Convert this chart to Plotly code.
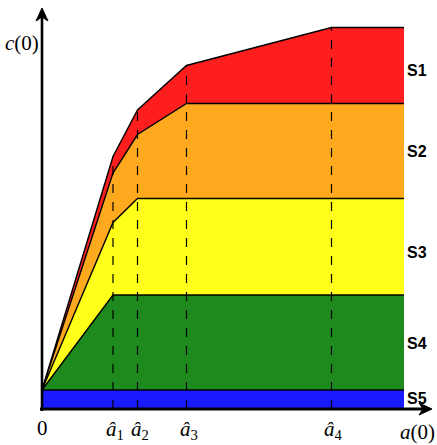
import plotly.graph_objects as go

# x positions of the breakpoints (0, â1, â2, â3, â4, right end)
x_pts = [0, 71, 95.5, 144.5, 289.5, 362]
a_hat = [71, 95.5, 144.5, 289.5]
a_labels = ["1", "2", "3", "4"]

# cumulative upper boundaries of each region (bottom S5 -> top S1)
s5_top = [19, 19, 19, 19, 19, 19]
s4_top = [19, 114, 114, 114, 114, 114]
s3_top = [19, 186.5, 210.5, 210.5, 210.5, 210.5]
s2_top = [19, 236, 274.5, 305.5, 305.5, 305.5]
s1_top = [19, 252.5, 299, 343.5, 381.5, 381.5]

region_names = ["S5", "S4", "S3", "S2", "S1"]
region_tops = [s5_top, s4_top, s3_top, s2_top, s1_top]
region_colors = ["#1a1aff", "#1e8a1e", "#ffff1a", "#ffaa1e", "#ff1e1e"]
label_y = [11, 66, 157, 257, 339]

X_MAX, Y_MAX = 390, 401


def px(x):
    return x / X_MAX


def py(y):
    return y / Y_MAX


fig = go.Figure()
for i, (name, tops, col) in enumerate(zip(region_names, region_tops, region_colors)):
    fig.add_trace(go.Scatter(
        x=x_pts, y=tops, mode="lines", name=name,
        line=dict(color="black", width=1.4),
        fill="tozeroy" if i == 0 else "tonexty",
        fillcolor=col, showlegend=False, hoverinfo="skip"))

shapes = []
for a in a_hat:
    top = s1_top[x_pts.index(a)]
    shapes.append(dict(type="line", xref="x", yref="y", x0=a, x1=a, y0=0, y1=top,
                       line=dict(color="black", width=1.2, dash="dash"), layer="above"))

# axis lines (paper coords, not clipped)
shapes.append(dict(type="line", xref="paper", yref="paper", x0=px(-2), x1=px(X_MAX - 6),
                   y0=0, y1=0, line=dict(color="black", width=3), layer="above"))
shapes.append(dict(type="line", xref="paper", yref="paper", x0=0, x1=0,
                   y0=py(-2), y1=py(Y_MAX - 6), line=dict(color="black", width=2.6), layer="above"))


def path(points):
    return "M " + " L ".join(f"{px(x):.5f},{py(y):.5f}" for x, y in points) + " Z"


# arrow heads
shapes.append(dict(type="path", xref="paper", yref="paper",
                   path=path([(X_MAX, 0), (X_MAX - 13, 6), (X_MAX - 9, 0), (X_MAX - 13, -6)]),
                   fillcolor="black", line=dict(color="black", width=1), layer="above"))
shapes.append(dict(type="path", xref="paper", yref="paper",
                   path=path([(0, Y_MAX), (-6, Y_MAX - 13), (0, Y_MAX - 9), (6, Y_MAX - 13)]),
                   fillcolor="black", line=dict(color="black", width=1), layer="above"))

serif = dict(family="Liberation Serif, Times New Roman, serif", size=21, color="black")


def label(x, y, text, font):
    return dict(x=px(x), y=py(y), xref="paper", yref="paper", text=text,
                xanchor="center", yanchor="middle", showarrow=False, font=font)


ann = []
ann.append(label(-20, 366, "<i>c</i>(0)", serif))
ann.append(label(375, -23, "<i>a</i>(0)", serif))
ann.append(label(0, -19, "0", serif))
for a, lab in zip(a_hat, a_labels):
    ann.append(label(a + 2, -21, "<i>â</i><sub>" + lab + "</sub>", serif))

sans = dict(family="Liberation Sans Narrow, Arial Narrow, Liberation Sans, Arial", size=16, color="black")
for name, ly in zip(region_names, label_y):
    ann.append(label(375, ly, "<b>" + name + "</b>", sans))

fig.update_layout(
    width=437, height=445, autosize=False,
    margin=dict(l=42, r=5, t=8, b=36, autoexpand=False),
    paper_bgcolor="white", plot_bgcolor="white",
    xaxis=dict(range=[0, X_MAX], visible=False, fixedrange=True),
    yaxis=dict(range=[0, Y_MAX], visible=False, fixedrange=True),
    shapes=shapes, annotations=ann,
)
fig.write_html("out.html", config={"displayModeBar": False},
               post_script="document.body.style.margin='0';")
